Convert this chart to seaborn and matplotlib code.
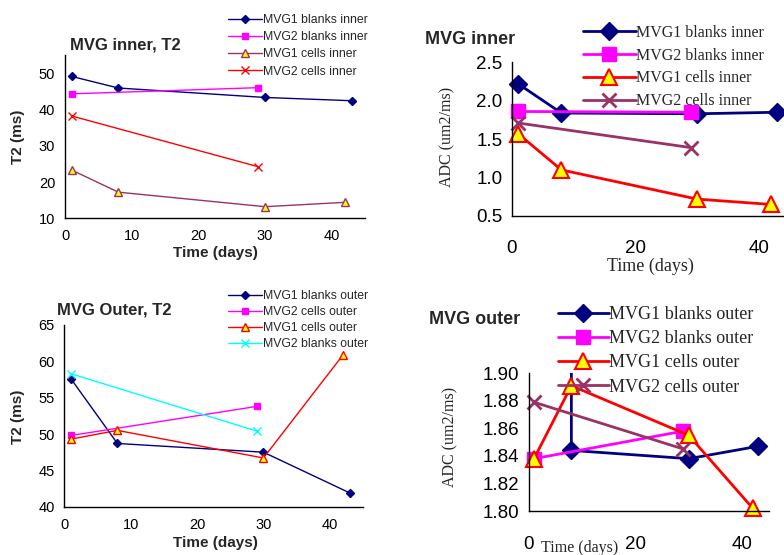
import matplotlib
matplotlib.use("Agg")
import matplotlib.pyplot as plt
import numpy as np
import pandas as pd
import seaborn as sns
from matplotlib.ticker import FormatStrFormatter

sns.set_style("white")
plt.rcParams['font.family'] = ['Liberation Sans', 'DejaVu Sans']

# ---- data: T2 inner (top left)
t2_in_days_a = [1, 8, 30, 43]
t2_in_days_b = [1, 29]
t2_in_days_c = [1, 8, 30, 42]
t2_in_mvg1_blanks = [49.1, 45.9, 43.3, 42.4]
t2_in_mvg2_blanks = [44.3, 46.0]
t2_in_mvg1_cells = [23.3, 17.2, 13.2, 14.4]
t2_in_mvg2_cells = [38.2, 24.2]

# ---- data: ADC inner (top right)
adc_in_mvg1_blanks = [2.22, 1.84, 1.83, 1.85]
adc_in_mvg2_blanks = [1.86, 1.85]
adc_in_mvg1_cells = [1.57, 1.10, 0.72, 0.65]
adc_in_mvg2_cells = [1.71, 1.39]

# ---- data: T2 outer (bottom left)
t2_out_mvg1_blanks = [57.6, 48.7, 47.5, 41.9]
t2_out_mvg2_cells = [49.8, 53.8]
t2_out_mvg1_cells = [49.3, 50.5, 46.7, 60.9]
t2_out_mvg2_blanks = [58.3, 50.4]

# ---- data: ADC outer (bottom right)
adc_out_days_blanks1 = [8, 8, 30, 43]
adc_out_mvg1_blanks = [1.93, 1.844, 1.838, 1.847]
adc_out_mvg2_blanks = [1.838, 1.858]
adc_out_mvg1_cells = [1.838, 1.891, 1.855, 1.802]
adc_out_days_cells2 = [1, 29]
adc_out_mvg2_cells = [1.879, 1.845]

NAVY = '#000080'
MAGENTA = '#FF00FF'
RED = '#FF0000'
PURPLE = '#993366'
CYAN = '#00FFFF'
YELLOW = '#FFFF00'

W, H = 784, 555
fig = plt.figure(figsize=(7.84, 5.55), dpi=100)


def px_axes(x0, x1, ytop, ybot):
    return fig.add_axes([x0 / W, 1 - ybot / H, (x1 - x0) / W, (ybot - ytop) / H])


def series(ax, x, y, color, marker, ms, lw, label, mfc=None, mec=None, mew=1, clip=False):
    sns.lineplot(x=x, y=y, ax=ax, color=color, marker=marker, markersize=ms,
                 linewidth=lw, markerfacecolor=mfc or color, markeredgecolor=mec or color,
                 markeredgewidth=mew, estimator=None, sort=False, label=label, clip_on=clip)


def style_axes(ax, xdir, ydir, fs, xpad, ypad):
    sns.despine(ax=ax)
    for s in ['left', 'bottom']:
        ax.spines[s].set_color('black')
        ax.spines[s].set_linewidth(1)
    ax.tick_params(axis='x', direction=xdir, length=4, width=1, labelsize=fs, pad=xpad, colors='black')
    ax.tick_params(axis='y', direction=ydir, length=4, width=1, labelsize=fs, pad=ypad, colors='black')
    ax.set_xlabel('')
    ax.set_ylabel('')


# ---------- top left
ax1 = px_axes(65, 365, 55, 218.3)
series(ax1, t2_in_days_a, t2_in_mvg1_blanks, NAVY, 'D', 4.5, 1, 'MVG1 blanks inner')
series(ax1, t2_in_days_b, t2_in_mvg2_blanks, MAGENTA, 's', 5, 1, 'MVG2 blanks inner')
series(ax1, t2_in_days_c, t2_in_mvg1_cells, PURPLE, '^', 6, 1, 'MVG1 cells inner', mfc=YELLOW, mec=PURPLE)
series(ax1, t2_in_days_b, t2_in_mvg2_cells, RED, 'x', 6, 1, 'MVG2 cells inner')
ax1.set_xlim(0, 45)
ax1.set_ylim(10, 55)
ax1.set_xticks([0, 10, 20, 30, 40])
ax1.set_yticks([10, 20, 30, 40, 50])
style_axes(ax1, 'out', 'out', 10.5, 4, 3)
ax1.legend(loc='upper left', bbox_to_anchor=(222 / W, 1 - 8 / H), bbox_transform=fig.transFigure,
           frameon=False, fontsize=8.8, handlelength=2.75, handletextpad=0.1, labelspacing=0.42, borderpad=0)
fig.text(70 / W, 1 - 45 / H, 'MVG inner, T2', fontsize=12, fontweight='bold', va='center')
fig.text(18 / W, 1 - 137 / H, 'T2 (ms)', fontsize=11, fontweight='bold', rotation=90, va='center', ha='center')
fig.text(215 / W, 1 - 253 / H, 'Time (days)', fontsize=11, fontweight='bold', va='center', ha='center')

# ---------- top right
ax2 = px_axes(512, 783.5, 62.3, 216)
series(ax2, t2_in_days_a, adc_in_mvg1_blanks, NAVY, 'D', 9, 2, 'MVG1 blanks inner')
series(ax2, t2_in_days_b, adc_in_mvg2_blanks, MAGENTA, 's', 10, 2, 'MVG2 blanks inner')
series(ax2, t2_in_days_c, adc_in_mvg1_cells, RED, '^', 11, 2, 'MVG1 cells inner', mfc=YELLOW, mec=RED, mew=1.5)
series(ax2, t2_in_days_b, adc_in_mvg2_cells, PURPLE, 'x', 10, 2, 'MVG2 cells inner', mew=2)
ax2.set_xlim(0, 44)
ax2.set_ylim(0.5, 2.5)
ax2.set_xticks([0, 20, 40])
ax2.set_yticks([0.5, 1.0, 1.5, 2.0, 2.5])
ax2.yaxis.set_major_formatter(FormatStrFormatter('%.1f'))
style_axes(ax2, 'in', 'out', 13.5, 17, 3)
ax2.legend(loc='upper left', bbox_to_anchor=(575 / W, 1 - 17 / H), bbox_transform=fig.transFigure,
           frameon=False, prop={'family': 'Liberation Serif', 'size': 11.5},
           handlelength=3.3, handletextpad=0.0, labelspacing=0.42, borderpad=0)
fig.text(425 / W, 1 - 39 / H, 'MVG inner', fontsize=13, fontweight='bold', va='center')
fig.text(447 / W, 1 - 137 / H, 'ADC (um2/ms)', fontsize=11.5, family='Liberation Serif',
         rotation=90, va='center', ha='center')
fig.text(650 / W, 1 - 266.7 / H, 'Time (days)', fontsize=13, family='Liberation Serif',
         va='center', ha='center')

# ---------- bottom left
ax3 = px_axes(64.3, 363, 325, 506.7)
series(ax3, t2_in_days_a, t2_out_mvg1_blanks, NAVY, 'D', 4.5, 1, 'MVG1 blanks outer')
series(ax3, t2_in_days_b, t2_out_mvg2_cells, MAGENTA, 's', 5, 1, 'MVG2 cells outer')
series(ax3, t2_in_days_c, t2_out_mvg1_cells, RED, '^', 6, 1, 'MVG1 cells outer', mfc=YELLOW, mec=RED)
series(ax3, t2_in_days_b, t2_out_mvg2_blanks, CYAN, 'x', 6, 1, 'MVG2 blanks outer')
ax3.set_xlim(0, 45)
ax3.set_ylim(40, 65)
ax3.set_xticks([0, 10, 20, 30, 40])
ax3.set_yticks([40, 45, 50, 55, 60, 65])
style_axes(ax3, 'out', 'out', 10.5, 4, 3)
ax3.legend(loc='upper left', bbox_to_anchor=(222 / W, 1 - 284 / H), bbox_transform=fig.transFigure,
           frameon=False, fontsize=8.8, handlelength=2.75, handletextpad=0.1, labelspacing=0.32, borderpad=0)
fig.text(57 / W, 1 - 310 / H, 'MVG Outer, T2', fontsize=12, fontweight='bold', va='center')
fig.text(18 / W, 1 - 417 / H, 'T2 (ms)', fontsize=11, fontweight='bold', rotation=90, va='center', ha='center')
fig.text(215 / W, 1 - 543 / H, 'Time (days)', fontsize=11, fontweight='bold', va='center', ha='center')

# ---------- bottom right
ax4 = px_axes(528.7, 768.7, 373.3, 511)
series(ax4, adc_out_days_blanks1, adc_out_mvg1_blanks, NAVY, 'D', 9, 2, 'MVG1 blanks outer', clip=True)
series(ax4, t2_in_days_b, adc_out_mvg2_blanks, MAGENTA, 's', 10, 2, 'MVG2 blanks outer')
series(ax4, t2_in_days_c, adc_out_mvg1_cells, RED, '^', 11, 2, 'MVG1 cells outer', mfc=YELLOW, mec=RED, mew=1.5)
series(ax4, adc_out_days_cells2, adc_out_mvg2_cells, PURPLE, 'x', 10, 2, 'MVG2 cells outer', mew=2)
ax4.set_xlim(0, 45)
ax4.set_ylim(1.80, 1.90)
ax4.set_xticks([0, 20, 40])
ax4.set_yticks([1.80, 1.82, 1.84, 1.86, 1.88, 1.90])
ax4.yaxis.set_major_formatter(FormatStrFormatter('%.2f'))
style_axes(ax4, 'in', 'out', 13.5, 18, 3)
ax4.legend(loc='upper left', bbox_to_anchor=(549 / W, 1 - 297 / H), bbox_transform=fig.transFigure,
           frameon=False, prop={'family': 'Liberation Serif', 'size': 13},
           handlelength=2.8, handletextpad=0.0, labelspacing=0.4, borderpad=0)
fig.text(429 / W, 1 - 319 / H, 'MVG outer', fontsize=13, fontweight='bold', va='center')
fig.text(450 / W, 1 - 437 / H, 'ADC (um2/ms)', fontsize=11.5, family='Liberation Serif',
         rotation=90, va='center', ha='center')
fig.text(580 / W, 1 - 548 / H, 'Time (days)', fontsize=11.5, family='Liberation Serif',
         va='center', ha='center')

fig.savefig('out.png', dpi=100)
